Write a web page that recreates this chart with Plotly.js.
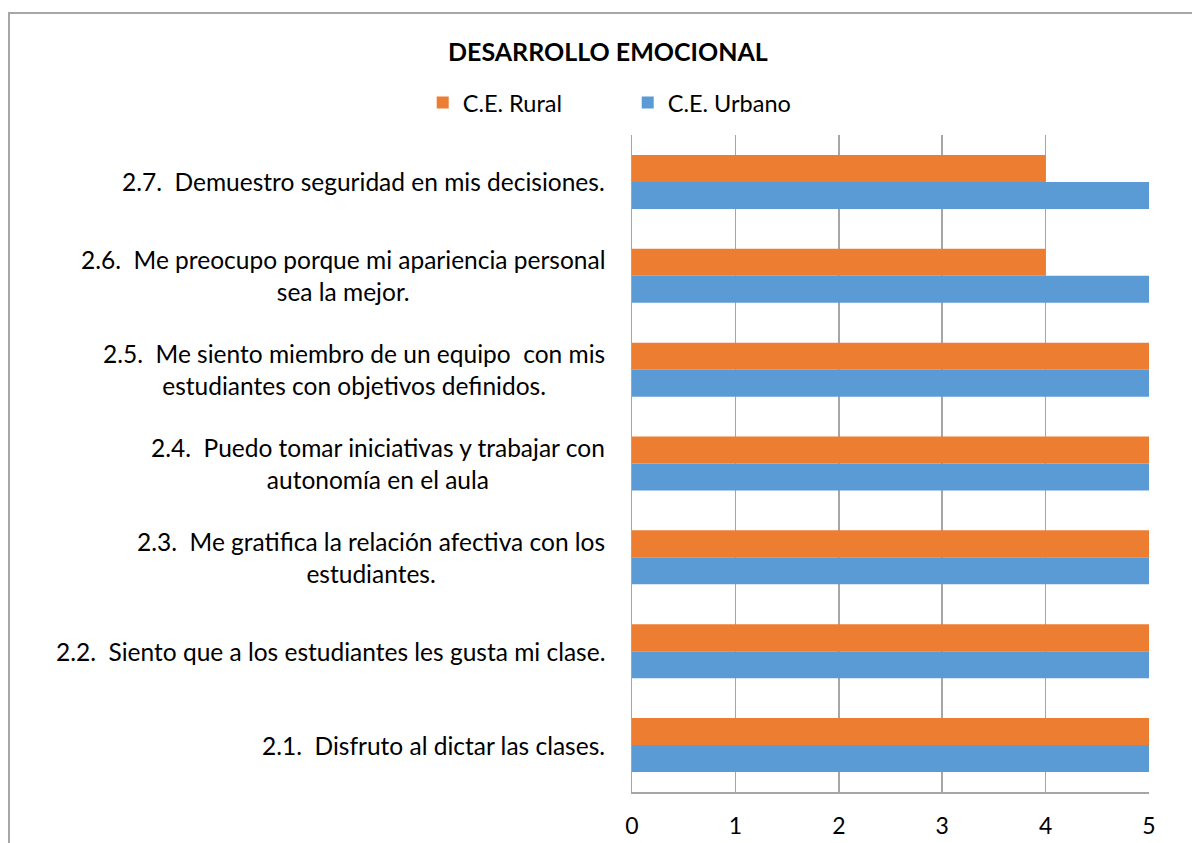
<!DOCTYPE html>
<html><head><meta charset="utf-8">
<script src="https://cdn.plot.ly/plotly-3.0.1.min.js"></script>
<style>
html,body{margin:0;padding:0;background:#fff;}
#chart{width:1192px;height:843px;position:absolute;left:0;top:0;}
#frame{position:absolute;left:8px;top:12px;width:1200px;height:900px;border-left:2px solid #a6a6a6;border-top:2px solid #a6a6a6;pointer-events:none;}
</style></head>
<body>
<div id="chart"></div>
<div id="frame"></div>
<script>
const categories = ["2.1", "2.2", "2.3", "2.4", "2.5", "2.6", "2.7"];
const categoryLabels = [
  "2.1.\u00a0 Disfruto al dictar las clases.",
  "2.2.\u00a0 Siento que a los estudiantes les gusta mi clase.",
  "2.3.\u00a0 Me gratifica la relación afectiva con los<br>estudiantes.",
  "2.4.\u00a0 Puedo tomar iniciativas y trabajar con<br>autonomía en el aula",
  "2.5.\u00a0 Me siento miembro de un equipo\u00a0 con mis<br>estudiantes con objetivos definidos.",
  "2.6.\u00a0 Me preocupo porque mi apariencia personal<br>sea la mejor.",
  "2.7.\u00a0 Demuestro seguridad en mis decisiones."
];
const ruralValues = [5, 5, 5, 5, 5, 4, 4];
const urbanoValues = [5, 5, 5, 5, 5, 5, 5];
const seriesNames = ["C.E. Rural", "C.E. Urbano"];
const xTicks = [0, 1, 2, 3, 4, 5];

const FONT = "Lato, 'Noto Sans', sans-serif";

const traces = [
  {type: "bar", orientation: "h", name: seriesNames[1], y: categories, x: urbanoValues,
   marker: {color: "#5B9BD5"}, hoverinfo: "x+name"},
  {type: "bar", orientation: "h", name: seriesNames[0], y: categories, x: ruralValues,
   marker: {color: "#ED7D31"}, hoverinfo: "x+name"}
];

const annotations = categories.map((c, i) => ({
  xref: "paper", yref: "y", x: -0.0475, y: i, xanchor: "right", yanchor: "middle",
  text: categoryLabels[i], showarrow: false, align: "center",
  font: {family: FONT, size: 24.5, color: "#000"}
}));

const layout = {
  width: 1192, height: 843,
  margin: {l: 632, r: 43, t: 135, b: 51, pad: 0},
  paper_bgcolor: "#fff", plot_bgcolor: "#fff",
  title: {text: "<b>DESARROLLO EMOCIONAL</b>", x: 0.51, xref: "container", y: 0.938, yref: "container",
          xanchor: "center", yanchor: "middle", font: {family: FONT, size: 25, color: "#000"}},
  barmode: "group", bargap: 0.425, bargroupgap: 0,
  xaxis: {range: [0, 5], tickvals: xTicks, ticktext: xTicks.map(String), showgrid: true,
          gridcolor: "#a6a6a6", gridwidth: 1.5, showline: true, linecolor: "#a6a6a6", linewidth: 1.5,
          ticks: "", ticklabelstandoff: 13, zeroline: false,
          tickfont: {family: FONT, size: 23, color: "#000"}, fixedrange: true},
  yaxis: {type: "category", categoryarray: categories, showticklabels: false, showgrid: false,
          showline: true, linecolor: "#a6a6a6", linewidth: 1.5, ticks: "", zeroline: false, fixedrange: true},
  legend: {orientation: "h", x: 0.5266, xanchor: "center", xref: "container", y: 0.878, yref: "container", yanchor: "middle",
           traceorder: "reversed", font: {family: FONT, size: 23.5, color: "#000"}, entrywidth: 160, itemwidth: 30},
  annotations: annotations,
  showlegend: true
};

Plotly.newPlot("chart", traces, layout, {displayModeBar: false, staticPlot: true});
</script>
</body></html>
